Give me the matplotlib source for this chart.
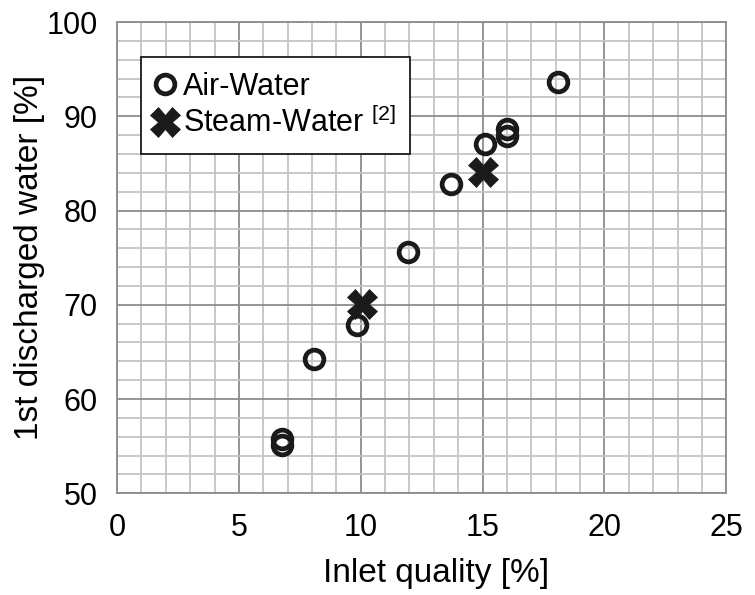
import matplotlib.pyplot as plt
from matplotlib.ticker import MultipleLocator

plt.rcParams['font.family'] = ['Liberation Sans', 'DejaVu Sans']
plt.rcParams['mathtext.fontset'] = 'custom'
plt.rcParams['mathtext.rm'] = 'Liberation Sans'

# Air-water runs
air_quality = [6.75, 6.75, 8.1, 9.85, 11.95, 13.7, 15.1, 16.0, 16.0, 18.1]
air_discharged = [55.8, 55.1, 64.2, 67.8, 75.6, 82.8, 87.1, 88.6, 87.9, 93.6]

# Steam-water reference data
steam_quality = [10.05, 15.0]
steam_discharged = [70.1, 84.1]

x_ticks = [0, 5, 10, 15, 20, 25]
y_ticks = [50, 60, 70, 80, 90, 100]

fig = plt.figure(figsize=(7.55, 5.95), dpi=100)
ax = fig.add_axes([0.155, 0.171, 0.807, 0.792])

ink = '#1a1a1a'
ax.plot(air_quality, air_discharged, linestyle='none', marker='o', ms=13.5,
        mfc='none', mec=ink, mew=3.4, label='Air-Water', zorder=3)
ax.plot(steam_quality, steam_discharged, linestyle='none', marker='X', ms=21,
        mfc=ink, mec=ink, mew=0.5, label=r'Steam-Water $^{[2]}$', zorder=4)

ax.set_xlim(0, 25)
ax.set_ylim(50, 100)
ax.set_xticks(x_ticks)
ax.set_yticks(y_ticks)
ax.xaxis.set_minor_locator(MultipleLocator(1))
ax.yaxis.set_minor_locator(MultipleLocator(2))
ax.grid(which='minor', color='#c4c4c4', linewidth=1.3)
ax.grid(which='major', color='#8c8c8c', linewidth=1.3)
ax.set_axisbelow(True)
for s in ax.spines.values():
    s.set_color('#8c8c8c')
    s.set_linewidth(1.3)
ax.tick_params(which='both', length=0, labelsize=22)
ax.tick_params(axis='x', pad=14)
ax.tick_params(axis='y', pad=14)

ax.set_xlabel('Inlet quality [%]', fontsize=24)
ax.set_ylabel('1st discharged water [%]', fontsize=24)
ax.xaxis.set_label_coords(0.524, -0.138)
ax.yaxis.set_label_coords(-0.118, 0.5)

leg = ax.legend(loc='upper left', bbox_to_anchor=(0.039, 0.925), fontsize=22,
                frameon=True, fancybox=False, handlelength=0.6,
                handletextpad=0.3, borderpad=0.48, labelspacing=0.17,
                borderaxespad=0)
leg.get_frame().set_edgecolor(ink)
leg.get_frame().set_linewidth(1.3)
leg.get_frame().set_alpha(1)

fig.savefig('out.png', dpi=100)
